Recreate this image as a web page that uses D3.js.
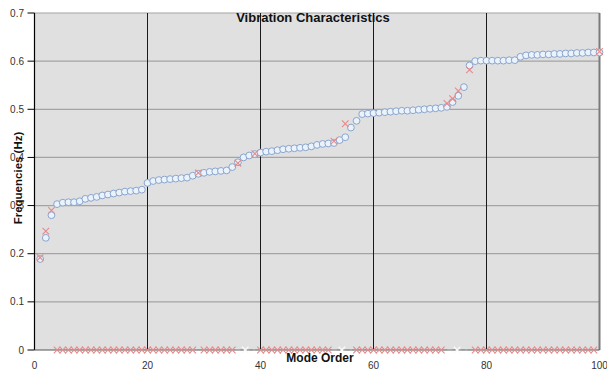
<!DOCTYPE html>
<html>
<head>
<meta charset="utf-8">
<script src="https://cdn.jsdelivr.net/npm/d3@7"></script>
<style>
  body { margin: 0; background: #fff; }
  svg { display: block; font-family: "Liberation Sans", Arial, sans-serif; }
</style>
</head>
<body>
<div id="chart"></div>
<script>
// mode numbers 1..100
const modes = [
  1,2,3,4,5,6,7,8,9,10,11,12,13,14,15,16,17,18,19,20,
  21,22,23,24,25,26,27,28,29,30,31,32,33,34,35,36,37,38,39,40,
  41,42,43,44,45,46,47,48,49,50,51,52,53,54,55,56,57,58,59,60,
  61,62,63,64,65,66,67,68,69,70,71,72,73,74,75,76,77,78,79,80,
  81,82,83,84,85,86,87,88,89,90,91,92,93,94,95,96,97,98,99,100
];

// circles series
const freqA = [
  0.189,0.233,0.280,0.303,0.306,0.307,0.307,0.309,0.314,0.316,
  0.318,0.321,0.323,0.325,0.327,0.329,0.330,0.331,0.333,0.347,
  0.351,0.353,0.354,0.355,0.356,0.357,0.358,0.362,0.366,0.368,
  0.370,0.371,0.372,0.373,0.380,0.390,0.400,0.404,0.407,0.410,
  0.412,0.413,0.415,0.417,0.418,0.419,0.420,0.421,0.423,0.426,
  0.428,0.429,0.430,0.436,0.442,0.462,0.476,0.490,0.491,0.492,
  0.493,0.494,0.495,0.496,0.497,0.497,0.498,0.499,0.500,0.501,
  0.502,0.503,0.505,0.515,0.528,0.546,0.591,0.600,0.601,0.601,
  0.601,0.601,0.601,0.602,0.602,0.609,0.612,0.613,0.613,0.614,
  0.614,0.615,0.615,0.616,0.616,0.617,0.617,0.618,0.618,0.618
];

// cross series (null = not shown)
const freqB = [
  0.192,0.247,0.290,0,0,0,0,0,0,0,
  0,0,0,0,0,0,0,0,0,0,
  0,0,0,0,0,0,0,0,0.368,0,
  0,0,0,0,0,0.388,null,null,0.408,0,
  0,0,0,0,0,0,0,0,0,0,
  0,0,0.434,null,0.470,null,0,0,0,0,
  0,0,0,0,0,0,0,0,0,0,
  0,0,0.512,0.522,0.538,null,0.582,0,0,0,
  0,0,0,0,0,0,0,0,0,0,
  0,0,0,0,0,0,0,0,0,0.620
];

// grey marks sitting on the zero line where the crosses leave gaps
const gapMarks = [37.3, 54.4, 74.8];

const xTicks = [0, 20, 40, 60, 80, 100];
const yTicks = [0, 0.1, 0.2, 0.3, 0.4, 0.5, 0.6, 0.7];

const width = 607, height = 371;
const plot = { left: 34.5, right: 599.5, top: 13, bottom: 350 };

const svg = d3.select('#chart').append('svg')
  .attr('width', width).attr('height', height);

const x = d3.scaleLinear().domain([0, 100]).range([plot.left, plot.right]);
const y = d3.scaleLinear().domain([0, 0.7]).range([plot.bottom, plot.top]);

// plot background
svg.append('rect')
  .attr('x', plot.left).attr('y', plot.top)
  .attr('width', plot.right - plot.left).attr('height', plot.bottom - plot.top)
  .attr('fill', '#e0e0e0');

// horizontal grid
svg.append('g').selectAll('line')
  .data(yTicks.filter(d => d > 0))
  .join('line')
  .attr('x1', plot.left).attr('x2', plot.right)
  .attr('y1', d => y(d)).attr('y2', d => y(d))
  .attr('stroke', '#a4a4a4').attr('stroke-width', 1.2);

// vertical grid
svg.append('g').selectAll('line')
  .data(xTicks.filter(d => d > 0))
  .join('line')
  .attr('x1', d => x(d)).attr('x2', d => x(d))
  .attr('y1', plot.top).attr('y2', plot.bottom)
  .attr('stroke', d => d === 100 ? '#7a7a7a' : '#1a1a1a')
  .attr('stroke-width', d => d === 100 ? 2 : 1);

// left axis
svg.append('line')
  .attr('x1', plot.left).attr('x2', plot.left).attr('y1', plot.top).attr('y2', plot.bottom)
  .attr('stroke', '#000').attr('stroke-width', 1.2);
svg.append('g').selectAll('line')
  .data(yTicks)
  .join('line')
  .attr('x1', plot.left - 7).attr('x2', plot.left)
  .attr('y1', d => y(d)).attr('y2', d => y(d))
  .attr('stroke', '#000');

// zero line
svg.append('line')
  .attr('x1', plot.left).attr('x2', plot.right).attr('y1', plot.bottom).attr('y2', plot.bottom)
  .attr('stroke', '#555').attr('stroke-width', 1);

// y tick labels
svg.append('g').selectAll('text')
  .data(yTicks)
  .join('text')
  .attr('x', 24).attr('y', d => y(d) + 3.5)
  .attr('text-anchor', 'end')
  .attr('font-size', 10).attr('fill', '#333')
  .text(d => d === 0 ? '0' : d.toFixed(1));

// x tick labels
svg.append('g').selectAll('text')
  .data(xTicks)
  .join('text')
  .attr('x', d => x(d)).attr('y', 369)
  .attr('text-anchor', 'middle')
  .attr('font-size', 10).attr('fill', '#333')
  .text(d => d);

// circles series
const ptsA = modes.map((m, i) => ({ m, v: freqA[i] }));
svg.append('g').selectAll('circle')
  .data(ptsA)
  .join('circle')
  .attr('cx', d => x(d.m)).attr('cy', d => y(d.v))
  .attr('r', 3.4)
  .attr('fill', '#eaf2fb')
  .attr('stroke', '#8aa4cc').attr('stroke-width', 1);

// grey gap marks on zero line
const cross = d3.symbol().type(d3.symbolX).size(30);
const gap = svg.append('g');
gap.selectAll('line')
  .data(gapMarks)
  .join('line')
  .attr('x1', d => x(d) - 10).attr('x2', d => x(d) + 10)
  .attr('y1', plot.bottom).attr('y2', plot.bottom)
  .attr('stroke', '#bbb').attr('stroke-width', 1.2)
  .attr('stroke-dasharray', '5,4');
gap.selectAll('path')
  .data(gapMarks)
  .join('path')
  .attr('transform', d => `translate(${x(d)},${plot.bottom})`)
  .attr('d', cross)
  .attr('fill', 'none')
  .attr('stroke', '#fafafa').attr('stroke-width', 1.3);

// cross series
const ptsB = modes.map((m, i) => ({ m, v: freqB[i] })).filter(d => d.v !== null);
svg.append('g').selectAll('path')
  .data(ptsB)
  .join('path')
  .attr('transform', d => `translate(${x(d.m)},${y(d.v)})`)
  .attr('d', cross)
  .attr('fill', 'none')
  .attr('stroke', '#e58a8a').attr('stroke-width', 1.1);

// titles
svg.append('text')
  .attr('x', 313).attr('y', 22)
  .attr('text-anchor', 'middle')
  .attr('font-size', 13).attr('font-weight', 'bold').attr('fill', '#111')
  .text('Vibration Characteristics');

svg.append('text')
  .attr('x', 320).attr('y', 362)
  .attr('text-anchor', 'middle')
  .attr('font-size', 12).attr('font-weight', 'bold').attr('fill', '#111')
  .text('Mode Order');

svg.append('text')
  .attr('transform', 'translate(22,178) rotate(-90)')
  .attr('text-anchor', 'middle')
  .attr('font-size', 11.5).attr('font-weight', 'bold').attr('fill', '#111')
  .text('Frequencies (Hz)');
</script>
</body>
</html>
